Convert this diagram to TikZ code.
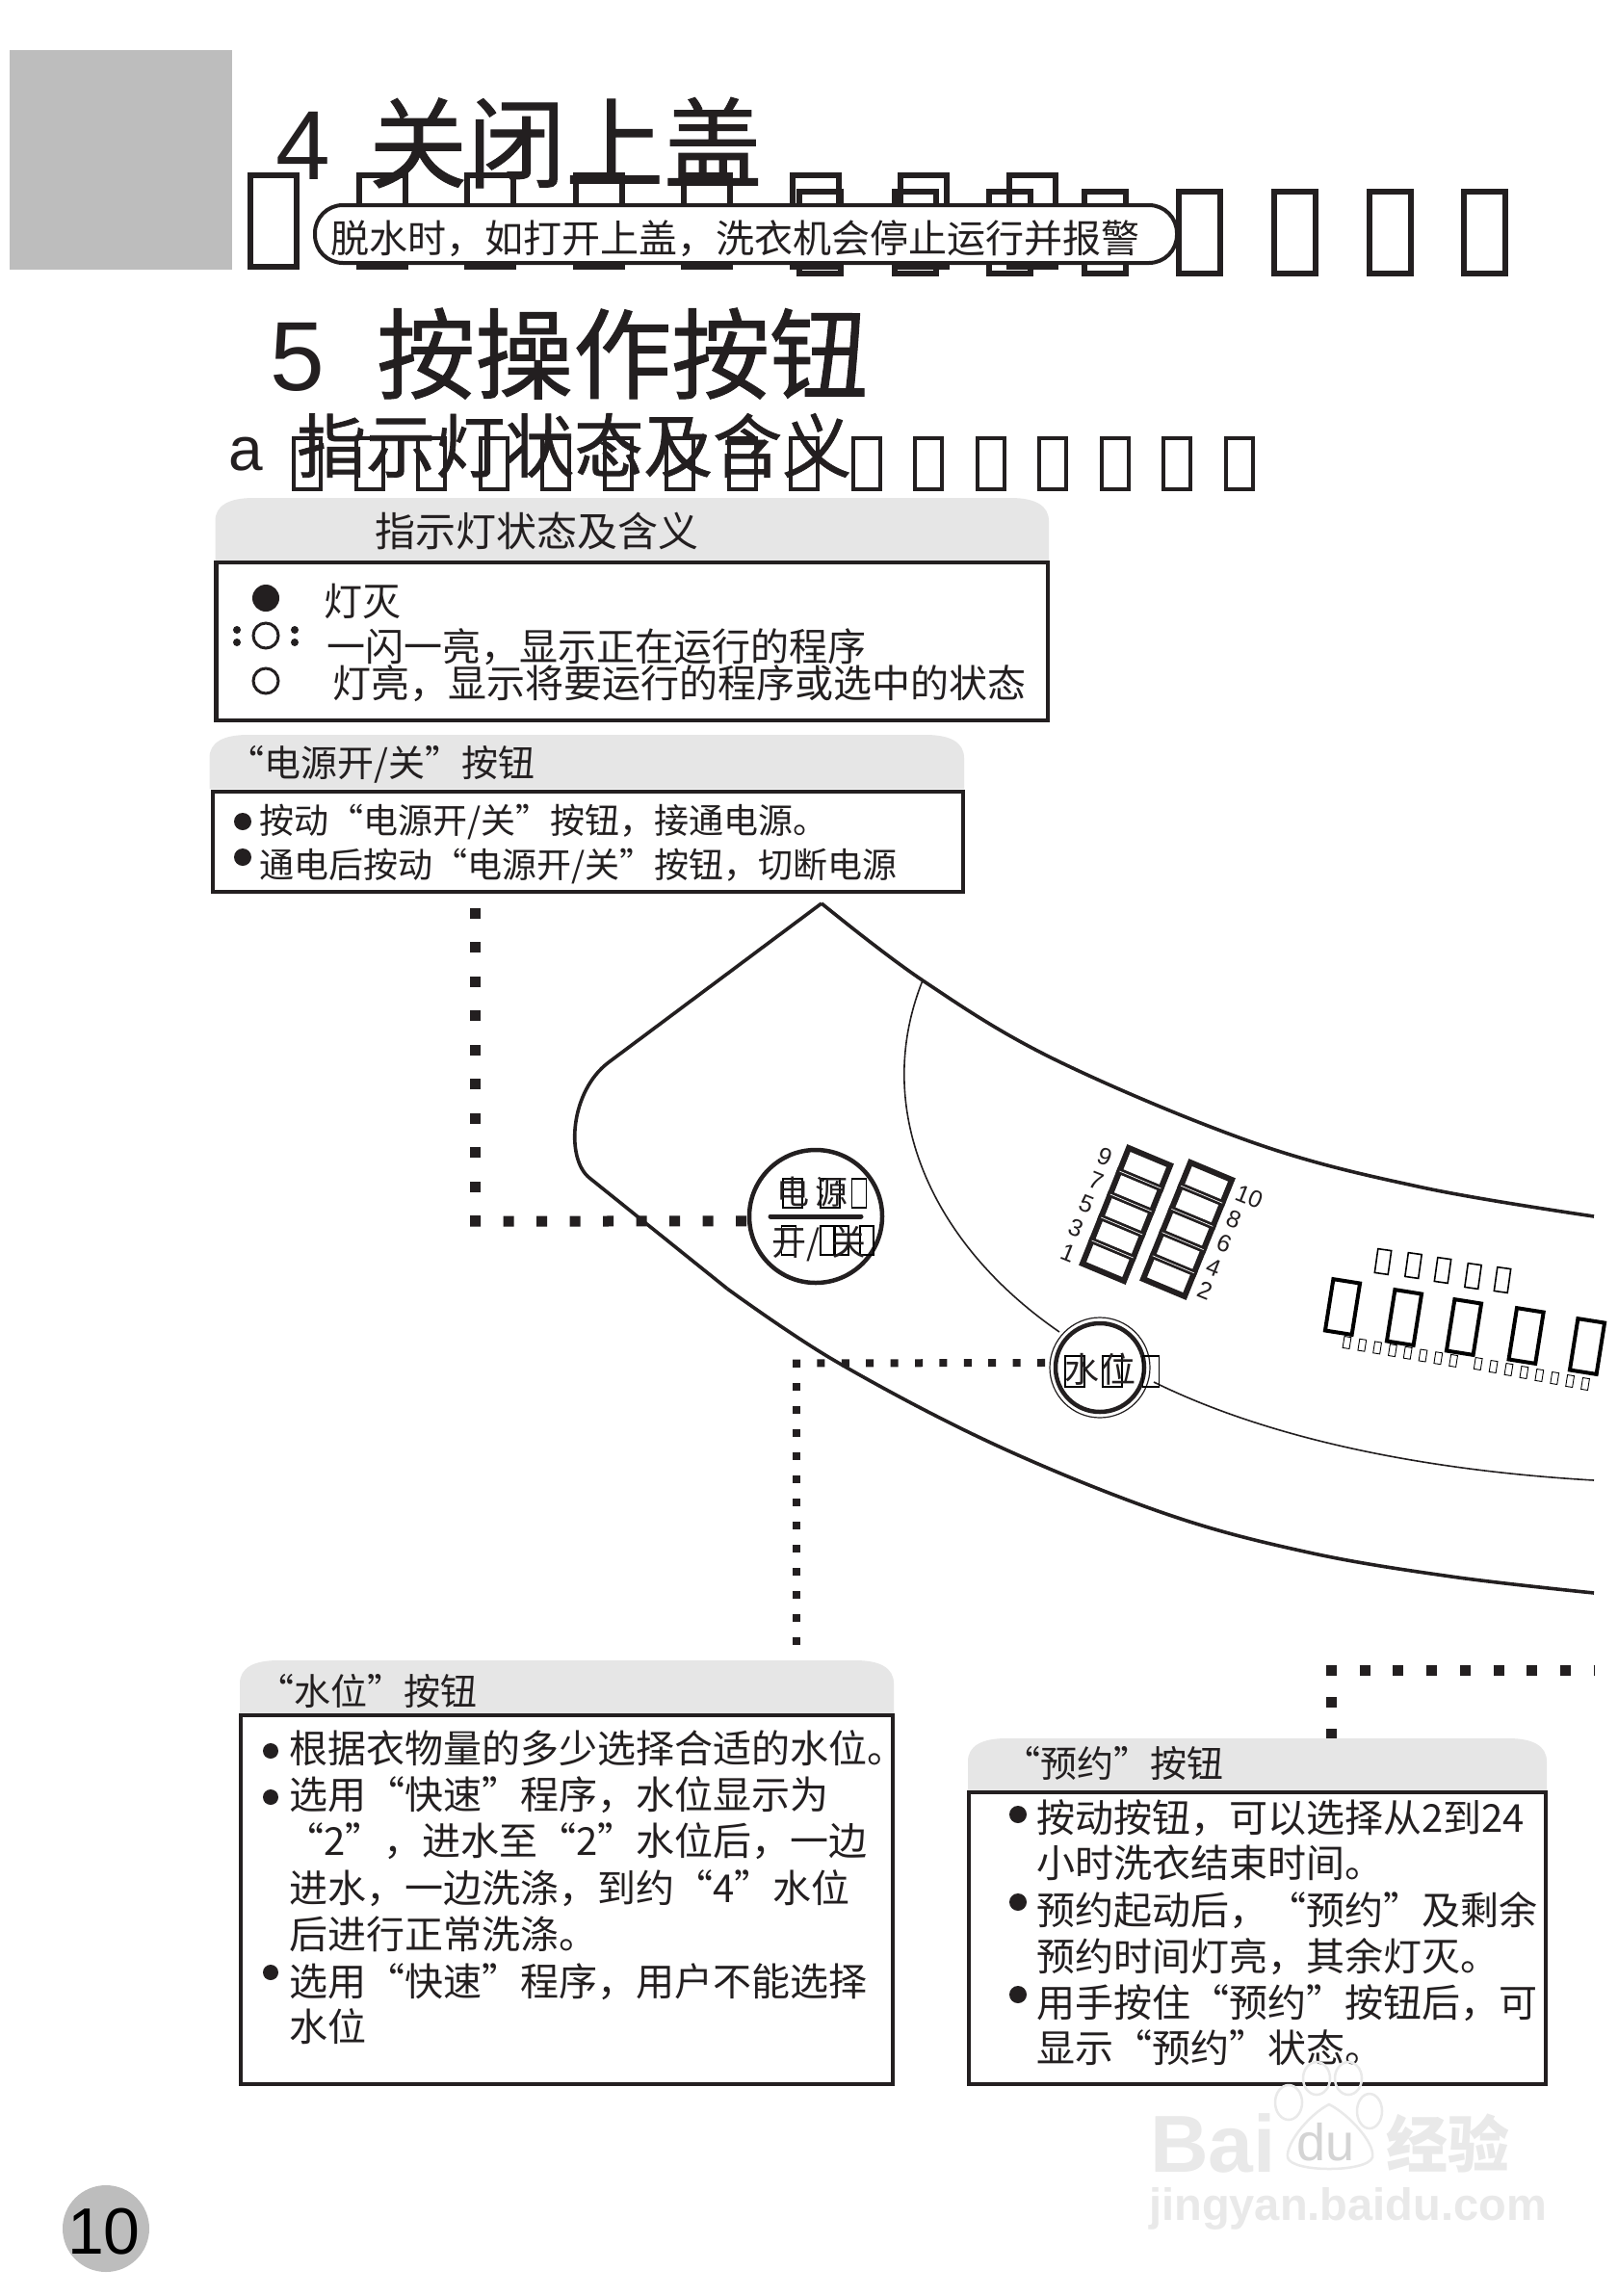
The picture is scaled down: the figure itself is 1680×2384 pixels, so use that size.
\documentclass[tikz,border=0pt]{standalone}
\usepackage{fontspec}
\setmainfont{Noto Sans CJK SC}
\newfontfamily\lat{Liberation Sans}
\newfontfamily\hvy[FakeBold=1]{Noto Sans CJK SC}
\definecolor{ink}{HTML}{231F20}
\definecolor{tabgray}{HTML}{E6E6E6}
\definecolor{sidegray}{HTML}{BDBDBD}
\definecolor{wm}{HTML}{E9E9E9}
\definecolor{wmdark}{HTML}{D4D4D4}
\newcommand{\fs}[1]{\fontsize{#1}{#1}\selectfont}
\newcommand{\tofu}[6][1.4]{\draw[line width=#1pt] [shift={(#2,#3)},rotate=#6] (-#4/2,-#5/2) rectangle (#4/2,#5/2);}
\newcommand{\hdr}[4]{\fill[tabgray] (#1,#4) -- (#1,{#3+24}) .. controls (#1,{#3+8}) and ({#1+14},#3) .. ({#1+40},#3) -- ({#2-40},#3) .. controls ({#2-14},#3) and (#2,{#3+8}) .. (#2,{#3+24}) -- (#2,#4) -- cycle;}
\tikzset{
  x=1pt,y=-1pt,
  txt/.style={anchor=base west,inner sep=0pt,text=ink},
  body/.style={txt,font=\fs{40}},
  smallbody/.style={txt,font=\fs{36}},
  tabtext/.style={txt,font=\fs{38}},
  head/.style={txt,font=\hvy\fs{102}},
  digit/.style={anchor=center,inner sep=0pt,text=ink,font=\lat\fs{25},rotate=-22},
  boxline/.style={draw=ink,line width=4.5pt},
  bullet/.style={fill=ink},
  dotsbig/.style={draw=ink,line width=11pt,dash pattern=on 11pt off 24pt},
  dotssmall/.style={draw=ink,line width=8pt,dash pattern=on 8pt off 17.4pt},
  panelline/.style={draw=ink,line width=3.6pt},
  thinline/.style={draw=ink,line width=1.6pt},
  cell/.style={draw=ink,line width=6pt,miter limit=10},
  wmt/.style={anchor=base west,inner sep=0pt,text=wm},
}
\newcommand{\ledcol}{%
\foreach \i in {0,...,4} {\pgfmathtruncatemacro{\j}{\i+1}\draw[cell] (0,\i) -- (1,\i) -- (1,\j) -- (0,\j) -- cycle;}
\foreach \i in {1,...,4} \draw[white,line width=.7pt] (0,\i) -- (1,\i);}
\begin{document}
\begin{tikzpicture}
\useasboundingbox (0,0) rectangle (1680,2384);
\fill[white] (0,0) rectangle (1680,2384);
% side block
\fill[sidegray] (10,52) rectangle (241,280);
% tofu rows behind headline
\begin{scope}[draw=ink]
\foreach \i in {0,...,7} {\pgfmathsetmacro{\cx}{284+112.5*\i}\tofu[6]{\cx}{229.5}{48}{94}{0}}
\foreach \i in {0,...,7} {\pgfmathsetmacro{\cx}{851.5+98.6*\i}\tofu[6]{\cx}{241.5}{43}{84}{0}}
\foreach \i in {0,...,15} {\pgfmathsetmacro{\cx}{319+64.5*\i}\tofu[4]{\cx}{481.5}{28}{53}{0}}
\end{scope}
% headlines
\node[txt,font=\lat\fs{102}] (n4) at (286,186) {4};
\node[head] (h4) at (383,187) {关闭上盖};
\node[txt,font=\lat\fs{102}] (n5) at (280,405) {5};
\node[head] (h5) at (391,406) {按操作按钮};
\node[txt,font=\lat\fs{64}] (na) at (237,488) {a};
\node[txt,font=\hvy\fs{72}] (ha) at (308,490) {指示灯状态及含义};
% pill
\node[draw=ink,fill=white,line width=4pt,rounded corners=29pt,minimum width=895pt,minimum height=60pt,inner sep=0pt] (pill) at (774.5,243) {};
\node[txt,font=\fs{40}] (pilltext) at (343,262) {脱水时，如打开上盖，洗衣机会停止运行并报警};
% panel 1
\hdr{223.5}{1089}{517}{582}
\draw[boxline] (224.5,584) rectangle (1088,748);
\node[txt,font=\fs{42}] (t1) at (389,567) {指示灯状态及含义};
\fill[bullet] (276,621) circle[radius=14];
\draw[ink,line width=3pt] (276,660) circle[radius=13];
\fill[bullet] (246,654) circle[radius=4] (246,667) circle[radius=4] (306,654) circle[radius=4] (306,667) circle[radius=4];
\draw[ink,line width=3pt] (276,707) circle[radius=13];
\node[body] (t1a) at (336,639) {灯灭};
\node[body] (t1b) at (339,686) {一闪一亮，显示正在运行的程序};
\node[body] (t1c) at (345,724) {灯亮，显示将要运行的程序或选中的状态};
% panel 2
\hdr{217.5}{1001}{763}{819}
\draw[boxline] (221,822) rectangle (1000,926);
\node[tabtext] (t2) at (236,806) {“电源开/关”按钮};
\fill[bullet] (252,853) circle[radius=9] (252,890) circle[radius=9];
\node[smallbody] (t2a) at (269,865) {按动“电源开/关”按钮，接通电源。};
\node[smallbody] (t2b) at (269,911) {通电后按动“电源开/关”按钮，切断电源};
% control panel outline
\draw[panelline,line join=round] plot[smooth,tension=.6] coordinates {(853,938) (958,1018) (1095,1100) (1303,1187) (1477,1233) (1655,1263)};
\draw[panelline,line join=round] (853,938) -- (632,1103) .. controls (592,1133) and (587,1203) .. (612,1223) -- (755,1338);
\draw[panelline,line join=round] plot[smooth,tension=.6] coordinates {(755,1338) (867,1413) (1033,1500) (1211,1572) (1359,1612) (1507,1637) (1655,1654)};
% inner thin curve
\coordinate (in1) at (958,1018);
\coordinate (in2) at (1100,1383);
\coordinate (in3) at (1198,1435);
\coordinate (in4) at (1655,1537);
\draw[thinline] (in1) .. controls (905,1150) and (965,1290) .. (in2);
\draw[thinline] (in3) .. controls (1330,1500) and (1500,1528) .. (in4);
% buttons
\node[circle,draw=ink,fill=white,line width=4.5pt,minimum size=138pt,inner sep=0pt] (power) at (847,1263) {};
\draw[ink,line width=5pt,line cap=round] (800,1263) -- (894,1263);
\node[circle,draw=ink,fill=white,line width=4.5pt,minimum size=92pt,inner sep=0pt] (water) at (1142,1420) {};
\draw[ink,line width=1.2pt] (1142,1420) circle[radius=52];
% tofu in buttons
\tofu[1.4]{823}{1239}{20}{30}{0}\tofu[1.4]{862}{1239}{20}{30}{0}\tofu[1.4]{892}{1239}{15}{30}{0}
\tofu[1.4]{819}{1288}{15}{30}{0}\tofu[1.4]{859}{1288}{14}{30}{0}\tofu[1.4]{874}{1288}{14}{30}{0}\tofu[1.4]{900}{1288}{14}{30}{0}
\tofu[1.4]{1116}{1424}{20}{32}{0}\tofu[1.4]{1155}{1424}{20}{32}{0}\tofu[1.4]{1195}{1424}{17}{32}{0}
\node[txt,font=\fs{34}] (pw1) at (806,1250) {电\hspace{6pt}源};
\node[txt,font=\fs{36}] (pw2) at (801,1303) {开/};
\node[txt,font=\fs{36}] (pw3) at (863,1303) {关};
\node[txt,font=\fs{36}] (wl) at (1105,1435) {水\hspace{2pt}位};
% dotted connectors
\coordinate (d1) at (493,938);
\coordinate (d1c) at (493,1273);
\coordinate (d1h) at (488,1268);
\draw[dotsbig,dash pattern=on 11pt off 24.5pt] (d1c) -- (d1);
\draw[dotsbig,dash pattern=on 11pt off 23.5pt] (d1h) -- (power.184);
\coordinate (d2c) at (823,1415.5);
\coordinate (d2v) at (827,1412);
\coordinate (d2e) at (827,1730);
\draw[dotssmall] (d2c) -- (water.174);
\draw[dotssmall,dash pattern=on 8pt off 16pt] (d2v) -- (d2e);
\coordinate (d3c) at (1377,1734.5);
\coordinate (d3v) at (1382.5,1729);
\coordinate (d3e) at (1656,1734.5);
\coordinate (d3f) at (1382.5,1810);
\draw[dotsbig,dash pattern=on 11pt off 23.7pt] (d3c) -- (d3e);
\draw[dotsbig,dash pattern=on 11pt off 22pt] (d3v) -- (d3f);
% LED bars
\begin{scope}[shift={(1124,1312)},x={(43pt,-18pt)},y={(9.6pt,24pt)}]
\ledcol
\end{scope}
\begin{scope}[shift={(1187,1328)},x={(43pt,-18pt)},y={(9.8pt,24.2pt)}]
\ledcol
\end{scope}
\node[digit] (k9) at (1147,1201) {9};
\node[digit] (k7) at (1138,1226) {7};
\node[digit] (k5) at (1128,1250) {5};
\node[digit] (k3) at (1117,1275) {3};
\node[digit] (k1) at (1109,1301) {1};
\node[digit] (k10) at (1297,1243) {10};
\node[digit] (k8) at (1281,1266) {8};
\node[digit] (k6) at (1271,1291) {6};
\node[digit] (k4) at (1260,1316) {4};
\node[digit] (k2) at (1251,1340) {2};
% tofu cluster at right
\tofu[1.6]{1436}{1310}{14}{25}{-8}\tofu[1.6]{1467.5}{1314}{14}{25}{-8}\tofu[1.6]{1498}{1319}{14}{25}{-8}\tofu[1.6]{1529.5}{1325}{14}{25}{-8}\tofu[1.6]{1560}{1329}{14}{25}{-8}
\tofu[4]{1394}{1357}{28}{54}{-9}\tofu[4]{1458}{1368}{28}{54}{-9}\tofu[4]{1520}{1378}{28}{54}{-9}\tofu[4]{1584.6}{1387}{28}{54}{-9}\tofu[4]{1648}{1398}{28}{54}{-9}
\foreach \i in {0,...,7} {\pgfmathsetmacro{\cx}{1398.5+15.8*\i}\pgfmathsetmacro{\cy}{1394+2.7*\i}\tofu[.9]{\cx}{\cy}{7}{12}{-9}}
\foreach \i in {0,...,7} {\pgfmathsetmacro{\cx}{1534.7+15.9*\i}\pgfmathsetmacro{\cy}{1416+3*\i}\tofu[.9]{\cx}{\cy}{7}{12}{-9}}
% water panel
\hdr{249}{928}{1724}{1779}
\draw[boxline] (250,1781) rectangle (927,2164);
\node[tabtext] (t3) at (267,1770) {“水位”按钮};
\fill[bullet] (281,1818) circle[radius=8] (281,1866) circle[radius=8] (281,2048) circle[radius=8];
\node[body] (t3a) at (300,1830) {根据衣物量的多少选择合适的水位。};
\node[body] (t3b) at (300,1878) {选用“快速”程序，水位显示为};
\node[body] (t3c) at (296,1926) {“2”，进水至“2”水位后，一边};
\node[body] (t3d) at (300,1975) {进水，一边洗涤，到约“4”水位};
\node[body] (t3e) at (300,2023) {后进行正常洗涤。};
\node[body] (t3f) at (300,2072) {选用“快速”程序，用户不能选择};
\node[body] (t3g) at (300,2119) {水位};
% reservation panel
\hdr{1005}{1606}{1805}{1859}
\draw[panelline,line width=3.5pt] (1006,1861) rectangle (1605,2164);
\node[tabtext] (t4) at (1042,1845) {“预约”按钮};
\fill[bullet] (1057,1884) circle[radius=9] (1057,1975) circle[radius=9] (1057,2071) circle[radius=9];
\node[body] (t4a) at (1076,1902) {按动按钮，可以选择从2到24};
\node[body] (t4b) at (1076,1949) {小时洗衣结束时间。};
\node[body] (t4c) at (1076,1998) {预约起动后，“预约”及剩余};
\node[body] (t4d) at (1076,2046) {预约时间灯亮，其余灯灭。};
\node[body] (t4e) at (1076,2094) {用手按住“预约”按钮后，可};
\node[body] (t4f) at (1076,2141) {显示“预约”状态。};
% page number
\node[circle,fill=sidegray,minimum size=90pt,inner sep=0pt] (pg) at (110,2314) {};
\node[anchor=center,inner sep=0pt,text=black,font=\lat\fs{68}] (pgn) at (108,2317) {10};
% watermark
\begin{scope}[draw=wm,line width=2.5pt]
\draw (1367,2158) ellipse[x radius=14,y radius=17];
\draw (1400,2158) ellipse[x radius=14,y radius=17];
\draw (1338,2183) ellipse[x radius=14,y radius=18];
\draw (1422,2192) ellipse[x radius=13,y radius=18];
\draw (1380,2185) .. controls (1360,2195) and (1335,2225) .. (1337,2240) .. controls (1340,2256) and (1420,2256) .. (1425,2240) .. controls (1428,2225) and (1400,2195) .. (1380,2185) -- cycle;
\end{scope}
\node[wmt,font=\lat\bfseries\fs{84}] (wm1) at (1194,2255) {Bai};
\node[wmt,text=wmdark,font=\lat\fs{54}] (wm2) at (1346,2243) {du};
\node[wmt,font=\bfseries\fs{64}] (wm3) at (1439,2250) {经验};
\node[wmt,font=\lat\bfseries\fs{47}] (wm4) at (1193,2305) {jingyan.baidu.com};
\end{tikzpicture}
\end{document}
